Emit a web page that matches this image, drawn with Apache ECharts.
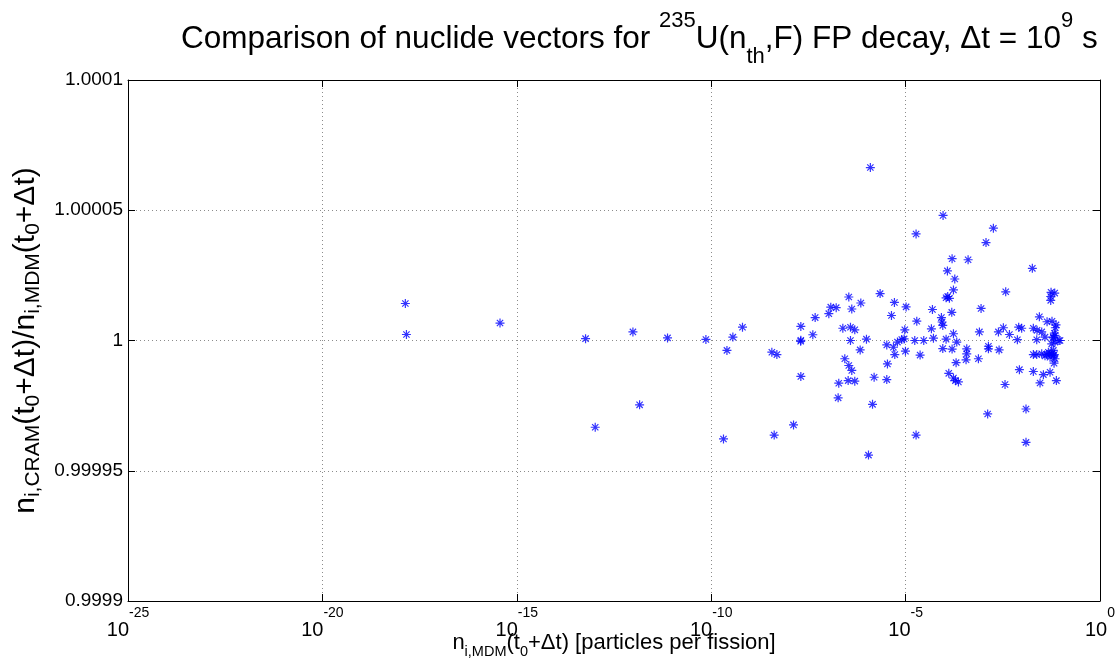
<!DOCTYPE html>
<html><head><meta charset="utf-8">
<script src="https://cdn.jsdelivr.net/npm/echarts@6/dist/echarts.min.js"></script>
<style>html,body{margin:0;padding:0;background:#fff}#c{width:1119px;height:664px}</style>
</head><body><div id="c"></div>
<script>
// x: n_i,MDM(t0+dt) [particles per fission]
const nMDM = [
1.36e-18,1.45e-18,3.70e-16,5.87e-14,9.70e-13,7.53e-12,7.31e-11,2.54e-10,3.61e-10,6.38e-10,
3.63e-9,4.89e-9,1.04e-13,1.44e-12,2.07e-10,4.17e-9,1.24e-6,
9.20e-5,1.86e-5,1.81e-3,1.17e-3,1.57e-4,4.05e-4,1.82e-2,1.19e-4,1.84e-4,3.76e-3,
1.70e-4,2.21e-6,3.46e-7,7.05e-7,5.16e-6,1.10e-4,1.34e-4,1.21e-4,5.51e-2,6.84e-2,
5.40e-2,5.40e-2,1.19e-7,1.64e-7,1.06e-7,4.13e-7,1.03e-5,4.90e-5,8.73e-4,4.33e-6,
1.54e-4,4.72e-8,8.34e-5,8.67e-5,9.04e-5,1.94e-5,2.76e-2,4.35e-2,5.83e-2,7.40e-2,
7.11e-2,2.02e-8,2.43e-7,3.82e-7,4.93e-7,4.11e-8,9.53e-6,4.61e-5,7.91e-4,2.44e-3,
3.27e-3,4.68e-3,8.11e-3,9.68e-3,1.93e-2,2.40e-2,3.17e-2,1.70e-4,2.02e-8,2.00e-8,
3.82e-7,9.84e-7,3.28e-6,6.17e-6,7.98e-6,9.16e-6,1.72e-5,2.93e-5,5.20e-5,1.10e-4,
2.07e-4,7.50e-3,2.36e-2,3.85e-2,6.32e-2,9.38e-2,6.97e-2,6.78e-7,4.86e-6,5.27e-6,
9.91e-6,2.36e-5,9.04e-5,1.57e-4,3.74e-4,3.74e-4,3.59e-4,1.35e-3,1.35e-3,2.54e-3,
7.46e-4,2.73e-7,3.46e-7,4.13e-7,3.41e-6,1.99e-4,1.93e-2,3.17e-2,4.26e-2,5.19e-2,
6.32e-2,6.97e-2,6.58e-2,8.45e-3,1.93e-2,3.50e-2,5.19e-2,2.02e-8,1.55e-6,3.28e-6,
3.33e-7,4.93e-7,1.91e-7,1.29e-4,1.70e-4,1.91e-4,2.28e-4,3.61e-3,2.87e-2,7.55e-2,
1.84e-7,1.41e-6,1.29e-3,1.25e-2,1.31e-8,1.86e-5,1.25e-2,1.11e-6,
6.32e-2,8.83e-2,5.73e-2,6.70e-2,6.97e-2,4.70e-2,5.73e-2,6.70e-2,6.32e-2,2.36e-2,
3.85e-2,5.19e-2
];
// y: n_i,CRAM / n_i,MDM
const ratio = [
1.0000142,1.0000023,1.0000067,1.0000007,1.0000033,1.0000010,1.0000004,0.9999962,1.0000013,1.0000051,
0.9999955,0.9999946,0.9999667,0.9999753,0.9999622,0.9999637,1.0000664,
1.0000480,1.0000409,1.0000431,1.0000376,1.0000314,1.0000310,1.0000277,1.0000267,1.0000236,1.0000187,
1.0000194,1.0000180,1.0000167,1.0000144,1.0000146,1.0000164,1.0000162,1.0000169,1.0000185,1.0000182,
1.0000169,1.0000154,1.0000128,1.0000126,1.0000103,1.0000121,1.0000129,1.0000119,1.0000123,1.0000096,
1.0000108,1.0000088,1.0000088,1.0000071,1.0000058,1.0000074,1.0000091,1.0000072,1.0000074,1.0000060,
1.0000049,1.0000054,1.0000047,1.0000051,1.0000041,1.0000022,1.0000041,1.0000045,1.0000033,1.0000033,
1.0000049,1.0000023,1.0000051,1.0000047,1.0000047,1.0000039,1.0000033,1.0000026,1.0000001,0.9999997,
1.0000000,1.0000005,0.9999983,0.9999994,1.0000004,1.0000006,1.0000000,1.0000000,1.0000009,1.0000005,
0.9999994,1.0000003,1.0000003,1.0000013,1.0000013,1.0000000,0.9999994,0.9999964,0.9999974,0.9999946,
0.9999959,0.9999944,0.9999969,0.9999967,0.9999968,0.9999949,0.9999926,0.9999978,0.9999968,0.9999964,
0.9999930,0.9999930,0.9999904,0.9999885,0.9999910,0.9999915,0.9999946,0.9999949,0.9999946,0.9999951,
0.9999942,0.9999930,0.9999913,0.9999888,0.9999881,0.9999869,0.9999878,0.9999862,0.9999859,0.9999850,
0.9999846,0.9999844,0.9999836,0.9999874,0.9999856,0.9999846,0.9999841,0.9999831,0.9999837,0.9999846,
0.9999780,0.9999755,0.9999718,0.9999737,0.9999676,0.9999637,0.9999609,0.9999560,
1.0000010,1.0000000,0.9999987,1.0000028,1.0000020,0.9999955,0.9999949,0.9999946,0.9999962,0.9999946,
0.9999941,0.9999936
];
const xTickExponents = ['-25','-20','-15','-10','-5','0'];
const yTickLabels = ['0.9999','0.99995','1','1.00005','1.0001'];

const FONT = '"Liberation Sans", Arial, Helvetica, sans-serif';
// log-scaled x axis: positions are log10 of the values (ECharts' own log axis fails at 1e-25 here)
const points = nMDM.map((x, i) => [Math.log10(x), ratio[i]]);
const asterisk = 'path://M0 5L10 5M5 0L5 10M1.5 1.5L8.5 8.5M1.5 8.5L8.5 1.5';

const chart = echarts.init(document.getElementById('c'), null, {renderer: 'canvas'});
const tickStyle = {show: true, inside: true, length: 7, lineStyle: {color: '#000', width: 1}};
const axisLineStyle = {show: true, onZero: false, lineStyle: {color: '#000', width: 1}};
const gridLine = {show: true, lineStyle: {color: '#8c8c8c', width: 1, type: [1, 3]}};

function xLabel(v) {
  const e = xTickExponents[Math.round((v + 25) / 5)];
  return e === undefined ? '' : '{b|10}{s|' + e + '}';
}
function yLabel(v) {
  const l = yTickLabels[Math.round((v - 0.9999) / 0.00005)];
  return l === undefined ? '' : l;
}

chart.setOption({
  animation: false,
  backgroundColor: '#fff',
  title: {
    text: '{a|Comparison of nuclide vectors for }{p|235}{a|U(n}{b|th}{a|,F) FP decay, Δt = 10}{p|9}{a| s}',
    left: 176, top: 5,
    textStyle: {
      fontFamily: FONT, color: '#000', fontWeight: 'normal',
      rich: {
        a: {fontSize: 31.5, lineHeight: 58, fontFamily: FONT, color: '#000', fontWeight: 'normal'},
        p: {fontSize: 22, lineHeight: 22, verticalAlign: 'top', fontFamily: FONT, color: '#000', fontWeight: 'normal'},
        b: {fontSize: 22, lineHeight: 22, verticalAlign: 'bottom', fontFamily: FONT, color: '#000', fontWeight: 'normal'}
      }
    }
  },
  grid: {left: 128, right: 19, top: 80, bottom: 63, containLabel: false, outerBoundsMode: 'none'},
  xAxis: [{
    type: 'value', min: -25, max: 0, interval: 5, position: 'bottom',
    axisLine: axisLineStyle, axisTick: tickStyle, splitLine: gridLine,
    axisLabel: {
      margin: 5, color: '#000', formatter: xLabel,
      rich: {
        b: {fontSize: 20, lineHeight: 48, fontFamily: FONT, color: '#000'},
        s: {fontSize: 14, lineHeight: 16, verticalAlign: 'top', fontFamily: FONT, color: '#000'}
      }
    },
    name: '{n|n}{s|i,MDM}{n|(t}{s|0}{n|+Δt) [particles per fission]}',
    nameLocation: 'middle', nameGap: 26, nameMoveOverlap: false,
    nameTextStyle: {rich: {
      n: {fontSize: 22, lineHeight: 32, fontFamily: FONT, color: '#000'},
      s: {fontSize: 14.5, lineHeight: 15, verticalAlign: 'bottom', fontFamily: FONT, color: '#000'}
    }}
  }, {
    type: 'value', min: -25, max: 0, interval: 5, position: 'top',
    axisLine: axisLineStyle, axisTick: tickStyle, splitLine: {show: false},
    axisLabel: {show: false}
  }],
  yAxis: [{
    type: 'value', min: 0.9999, max: 1.0001, interval: 0.00005, position: 'left',
    axisLine: axisLineStyle, axisTick: tickStyle, splitLine: gridLine,
    axisLabel: {margin: 5, color: '#000', fontSize: 19, fontFamily: FONT, formatter: yLabel},
    name: '{n|n}{s|i,CRAM}{n|(t}{s|0}{n|+Δt)/n}{s|i,MDM}{n|(t}{s|0}{n|+Δt)}',
    nameLocation: 'middle', nameGap: 84, nameRotate: 90, nameMoveOverlap: false,
    nameTextStyle: {rich: {
      n: {fontSize: 30, lineHeight: 36, fontFamily: FONT, color: '#000'},
      s: {fontSize: 21, lineHeight: 18, verticalAlign: 'bottom', fontFamily: FONT, color: '#000'}
    }}
  }, {
    type: 'value', min: 0.9999, max: 1.0001, interval: 0.00005, position: 'right',
    axisLine: axisLineStyle, axisTick: tickStyle, splitLine: {show: false},
    axisLabel: {show: false}
  }],
  series: [{
    type: 'scatter', xAxisIndex: 0, yAxisIndex: 0,
    data: points,
    symbol: asterisk, symbolSize: 9,
    itemStyle: {color: 'rgba(0,0,0,0)', borderColor: '#0000ff', borderWidth: 1.2},
    emphasis: {disabled: true}
  }]
});
</script>
</body></html>
